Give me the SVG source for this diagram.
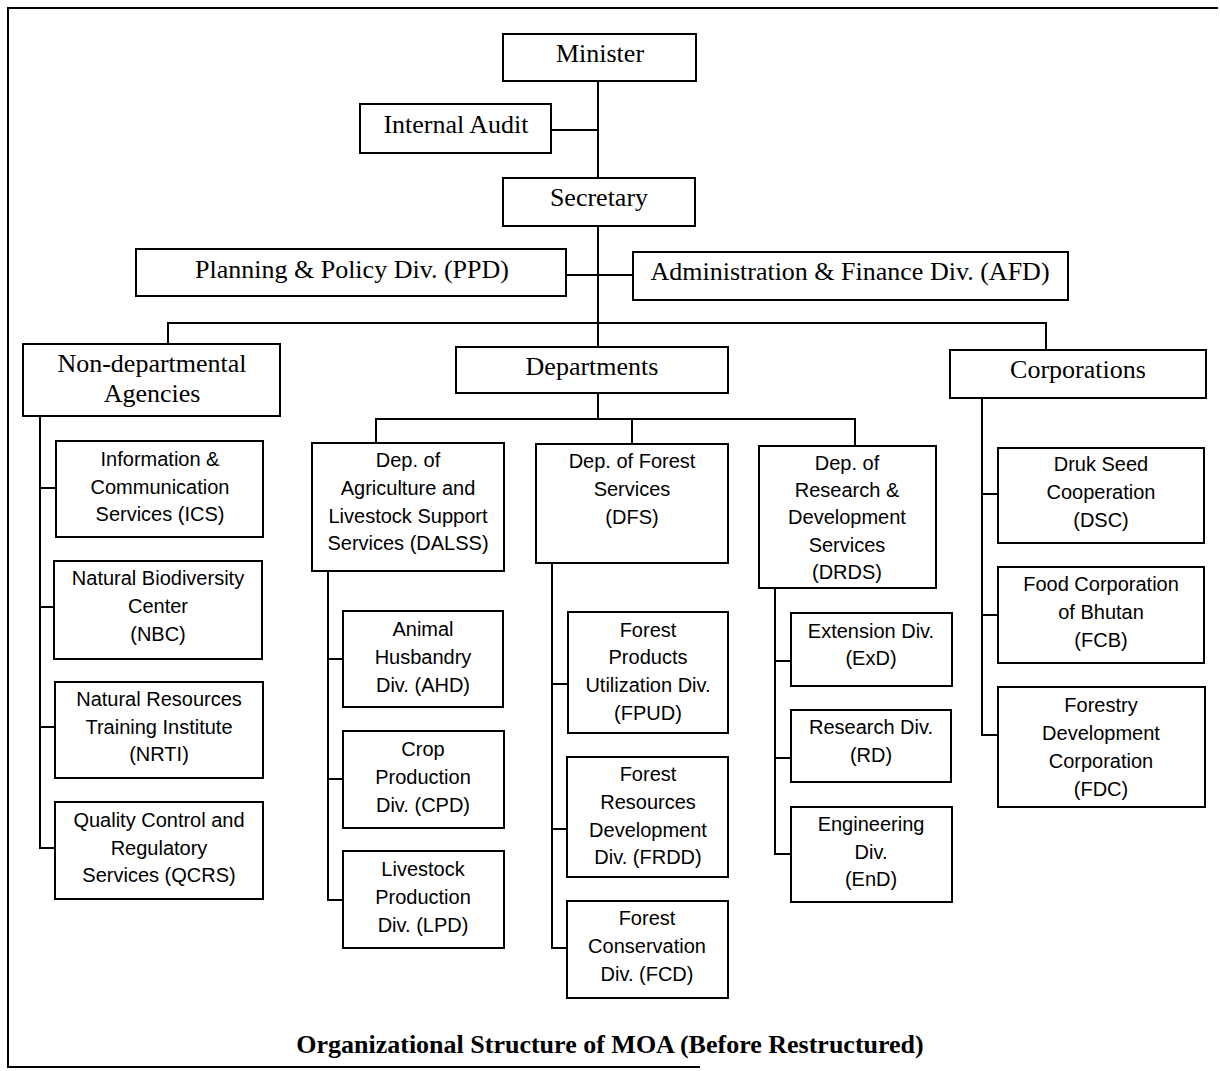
<svg xmlns="http://www.w3.org/2000/svg" width="1220" height="1071" viewBox="0 0 1220 1071">
<style>
.box{fill:#fff;stroke:#000;stroke-width:2}
.ln{fill:none;stroke:#000;stroke-width:2}
.s{font-family:"Liberation Serif","Times New Roman",serif;font-size:26px;fill:#000;text-anchor:middle}
.a{font-family:"Liberation Sans",Arial,sans-serif;font-size:20px;fill:#000;text-anchor:middle}
.t{font-family:"Liberation Serif","Times New Roman",serif;font-size:26px;font-weight:bold;fill:#000;text-anchor:middle}
</style>
<rect width="1220" height="1071" fill="#fff"/>
<path class="ln" d="M1218,8 H8 V1067 H700"/>
<g id="connectors">
<path class="ln" d="M598,81 V178 M551,130 H598 M598,226 V347 M566,275 H633 M168,344 V323 H1046 V350"/>
<path class="ln" d="M598,392 V419 M376,443 V419 H855 V446 M632,419 V444"/>
<path class="ln" d="M40,417 V848 H55 M40,488 H56 M40,607 H54 M40,727 H55"/>
<path class="ln" d="M328,571 V900 H343 M328,659 H343 M328,779 H343"/>
<path class="ln" d="M552,563 V948 H567 M552,684 H568 M552,829 H567"/>
<path class="ln" d="M775,588 V854 H791 M775,661 H791 M775,758 H791"/>
<path class="ln" d="M982,399 V735 H998 M982,494 H998 M982,615 H998"/>
</g>
<g id="minister"><rect class="box" x="503" y="34" width="193" height="47"/><text class="s" x="600" y="62">Minister</text></g>
<g id="internal-audit"><rect class="box" x="360" y="104" width="191" height="49"/><text class="s" x="456" y="133">Internal Audit</text></g>
<g id="secretary"><rect class="box" x="503" y="178" width="192" height="48"/><text class="s" x="599" y="206">Secretary</text></g>
<g id="ppd"><rect class="box" x="136" y="249" width="430" height="47"/><text class="s" x="352" y="278">Planning &amp; Policy Div. (PPD)</text></g>
<g id="afd"><rect class="box" x="633" y="252" width="435" height="48"/><text class="s" x="850" y="280">Administration &amp; Finance Div. (AFD)</text></g>
<g id="non-departmental"><rect class="box" x="23" y="344" width="257" height="72"/><text class="s" x="152" y="372">Non-departmental</text><text class="s" x="152" y="402">Agencies</text></g>
<g id="departments"><rect class="box" x="456" y="347" width="272" height="46"/><text class="s" x="592" y="375">Departments</text></g>
<g id="corporations"><rect class="box" x="950" y="350" width="256" height="48"/><text class="s" x="1078" y="378">Corporations</text></g>
<g id="ics"><rect class="box" x="56" y="441" width="207" height="96"/><text class="a" x="160" y="466">Information &amp;</text><text class="a" x="160" y="494">Communication</text><text class="a" x="160" y="521">Services (ICS)</text></g>
<g id="nbc"><rect class="box" x="54" y="561" width="208" height="98"/><text class="a" x="158" y="585">Natural Biodiversity</text><text class="a" x="158" y="613">Center</text><text class="a" x="158" y="641">(NBC)</text></g>
<g id="nrti"><rect class="box" x="55" y="682" width="208" height="96"/><text class="a" x="159" y="706">Natural Resources</text><text class="a" x="159" y="734">Training Institute</text><text class="a" x="159" y="761">(NRTI)</text></g>
<g id="qcrs"><rect class="box" x="55" y="802" width="208" height="97"/><text class="a" x="159" y="827">Quality Control and</text><text class="a" x="159" y="855">Regulatory</text><text class="a" x="159" y="882">Services (QCRS)</text></g>
<g id="dalss"><rect class="box" x="312" y="443" width="192" height="128"/><text class="a" x="408" y="467">Dep. of</text><text class="a" x="408" y="495">Agriculture and</text><text class="a" x="408" y="523">Livestock Support</text><text class="a" x="408" y="550">Services (DALSS)</text></g>
<g id="ahd"><rect class="box" x="343" y="611" width="160" height="96"/><text class="a" x="423" y="636">Animal</text><text class="a" x="423" y="664">Husbandry</text><text class="a" x="423" y="692">Div. (AHD)</text></g>
<g id="cpd"><rect class="box" x="343" y="731" width="161" height="97"/><text class="a" x="423" y="756">Crop</text><text class="a" x="423" y="784">Production</text><text class="a" x="423" y="812">Div. (CPD)</text></g>
<g id="lpd"><rect class="box" x="343" y="851" width="161" height="97"/><text class="a" x="423" y="876">Livestock</text><text class="a" x="423" y="904">Production</text><text class="a" x="423" y="932">Div. (LPD)</text></g>
<g id="dfs"><rect class="box" x="536" y="444" width="192" height="119"/><text class="a" x="632" y="468">Dep. of Forest</text><text class="a" x="632" y="496">Services</text><text class="a" x="632" y="524">(DFS)</text></g>
<g id="fpud"><rect class="box" x="568" y="612" width="160" height="121"/><text class="a" x="648" y="637">Forest</text><text class="a" x="648" y="664">Products</text><text class="a" x="648" y="692">Utilization Div.</text><text class="a" x="648" y="720">(FPUD)</text></g>
<g id="frdd"><rect class="box" x="567" y="757" width="161" height="120"/><text class="a" x="648" y="781">Forest</text><text class="a" x="648" y="809">Resources</text><text class="a" x="648" y="837">Development</text><text class="a" x="648" y="864">Div. (FRDD)</text></g>
<g id="fcd"><rect class="box" x="567" y="901" width="161" height="97"/><text class="a" x="647" y="925">Forest</text><text class="a" x="647" y="953">Conservation</text><text class="a" x="647" y="981">Div. (FCD)</text></g>
<g id="drds"><rect class="box" x="759" y="446" width="177" height="142"/><text class="a" x="847" y="470">Dep. of</text><text class="a" x="847" y="497">Research &amp;</text><text class="a" x="847" y="524">Development</text><text class="a" x="847" y="552">Services</text><text class="a" x="847" y="579">(DRDS)</text></g>
<g id="exd"><rect class="box" x="791" y="613" width="161" height="73"/><text class="a" x="871" y="638">Extension Div.</text><text class="a" x="871" y="665">(ExD)</text></g>
<g id="rd"><rect class="box" x="791" y="710" width="160" height="72"/><text class="a" x="871" y="734">Research Div.</text><text class="a" x="871" y="762">(RD)</text></g>
<g id="end"><rect class="box" x="791" y="807" width="161" height="95"/><text class="a" x="871" y="831">Engineering</text><text class="a" x="871" y="859">Div.</text><text class="a" x="871" y="886">(EnD)</text></g>
<g id="dsc"><rect class="box" x="998" y="448" width="206" height="95"/><text class="a" x="1101" y="471">Druk Seed</text><text class="a" x="1101" y="499">Cooperation</text><text class="a" x="1101" y="527">(DSC)</text></g>
<g id="fcb"><rect class="box" x="998" y="567" width="206" height="96"/><text class="a" x="1101" y="591">Food Corporation</text><text class="a" x="1101" y="619">of Bhutan</text><text class="a" x="1101" y="647">(FCB)</text></g>
<g id="fdc"><rect class="box" x="998" y="687" width="207" height="120"/><text class="a" x="1101" y="712">Forestry</text><text class="a" x="1101" y="740">Development</text><text class="a" x="1101" y="768">Corporation</text><text class="a" x="1101" y="796">(FDC)</text></g>
<text class="t" x="610" y="1053">Organizational Structure of MOA (Before Restructured)</text>
</svg>
